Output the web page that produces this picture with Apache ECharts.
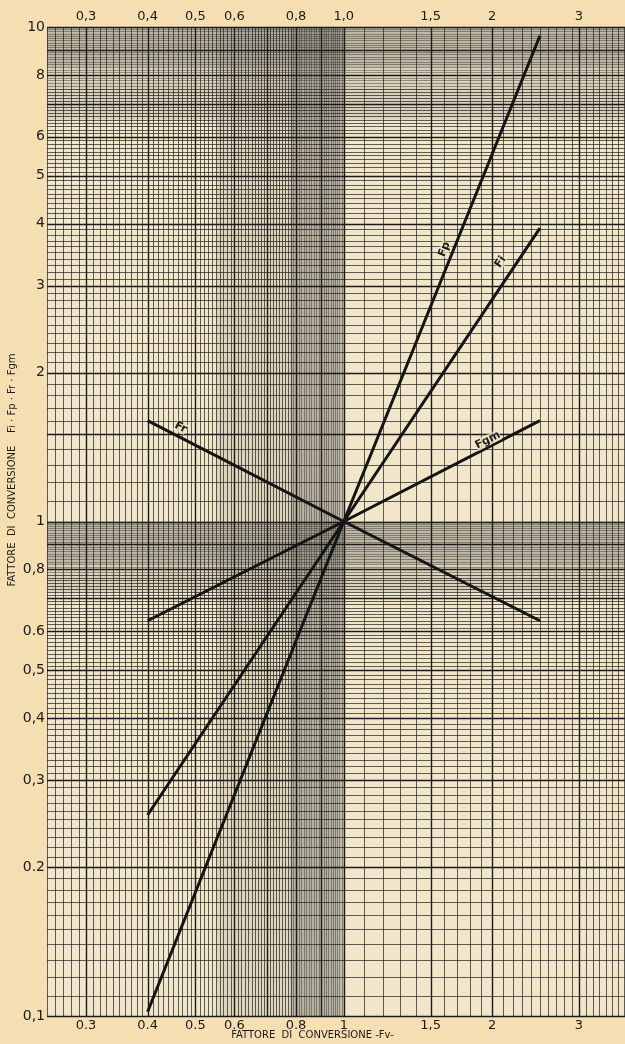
<!DOCTYPE html>
<html>
<head>
<meta charset="utf-8">
<script src="https://cdn.jsdelivr.net/npm/echarts@6/dist/echarts.min.js"></script>
<style>
html,body{margin:0;padding:0;background:#f5deb1;}
#chart{width:625px;height:1044px;}
</style>
</head>
<body>
<div id="chart"></div>
<script>
// ---- data ----
const xTickValues = [0.3, 0.4, 0.5, 0.6, 0.8, 1, 1.5, 2, 3];
const xTopLabels = ['0,3', '0,4', '0,5', '0,6', '0,8', '1,0', '1,5', '2', '3'];
const xBottomLabels = ['0.3', '0.4', '0.5', '0.6', '0.8', '1', '1,5', '2', '3'];
const yTickValues = [10, 8, 6, 5, 4, 3, 2, 1, 0.8, 0.6, 0.5, 0.4, 0.3, 0.2, 0.1];
const yTickLabels = ['10', '8', '6', '5', '4', '3', '2', '1', '0,8', '0.6', '0,5', '0,4', '0,3', '0.2', '0,1'];

const fvValues = [0.4, 1, 2.5];
const fpValues = [0.102, 1, 9.6];
const fiValues = [0.255, 1, 3.92];
const fgmValues = [0.63, 1, 1.6];
const frValues = [1.6, 1, 0.63];

const curveNames = ['Fp', 'Fi', 'Fgm', 'Fr'];
const curveLabelX = [1.6, 2.08, 1.96, 0.467];
const curveLabelY = [3.55, 3.35, 1.46, 1.55];
const curveLabelAngle = [68, 56, 27, -27];

const X_MIN = 0.25, X_MAX = 3.72, Y_MIN = 0.1, Y_MAX = 10;

// ---- graph-paper rulings (styling) ----
function range(a, b, step) {
  const out = []; const n = Math.round((b - a) / step);
  for (let i = 0; i <= n; i++) out.push(+(a + i * step).toFixed(4));
  return out;
}
const gridX = range(0.25, 1, 0.01).concat(range(1.1, 3.7, 0.1));
const gridY = range(0.1, 1, 0.01).concat(range(1.1, 2, 0.1)).concat(range(2.1, 10, 0.1));
function isMajor(v) {
  if (v < 1) return Math.abs(v * 10 - Math.round(v * 10)) < 1e-6;
  if (v < 2) return Math.abs(v * 2 - Math.round(v * 2)) < 1e-6;
  return Math.abs(v - Math.round(v)) < 1e-6;
}
function isDense(v) { return (v > 0.78 && v < 1) || (v > 7.5 && v < 10); }
function rulingStyle(v) {
  if (isMajor(v)) return {stroke: '#1a1a1a', lineWidth: 1.4};
  return {stroke: isDense(v) ? 'rgba(40,40,38,0.42)' : 'rgba(30,30,28,0.7)', lineWidth: 1};
}

const chart = echarts.init(document.getElementById('chart'), null, {renderer: 'canvas'});
const FONT = '"DejaVu Sans", "Liberation Sans", sans-serif';

function pairs(xs, ys) { return xs.map((x, i) => [x, ys[i]]); }

const option = {
  backgroundColor: '#f5deb1',
  animation: false,
  grid: {left: 47, right: 0, top: 27, bottom: 28, containLabel: false},
  xAxis: {type: 'log', logBase: 10, min: X_MIN, max: X_MAX,
    axisLine: {show: false}, axisTick: {show: false}, axisLabel: {show: false}, splitLine: {show: false}},
  yAxis: {type: 'log', logBase: 10, min: Y_MIN, max: Y_MAX,
    axisLine: {show: false}, axisTick: {show: false}, axisLabel: {show: false}, splitLine: {show: false}},
  series: [
    { // paper background + shaded bands
      type: 'custom', z: 1, silent: true,
      data: [[1, 1]],
      renderItem: function (params, api) {
        const tl = api.coord([X_MIN, Y_MAX]), br = api.coord([X_MAX, Y_MIN]);
        const rect = (x0, y0, x1, y1, fill) => {
          const a = api.coord([x0, y1]), b = api.coord([x1, y0]);
          return {type: 'rect', shape: {x: a[0], y: a[1], width: b[0] - a[0], height: b[1] - a[1]}, style: {fill: fill}};
        };
        return {type: 'group', children: [
          {type: 'rect', shape: {x: tl[0], y: tl[1], width: br[0] - tl[0], height: br[1] - tl[1]}, style: {fill: '#f1e6c9'}},
          rect(0.55, 1.0, 0.97, Y_MAX, 'rgba(150,145,135,0.22)'),
          rect(0.55, Y_MIN, 0.97, 0.9, 'rgba(150,145,135,0.2)'),
          rect(0.78, Y_MIN, 1.0, Y_MAX, 'rgba(120,118,112,0.38)'),
          rect(X_MIN, 0.72, X_MAX, 1.0, 'rgba(140,138,130,0.22)'),
          rect(X_MIN, 0.82, X_MAX, 1.0, 'rgba(120,118,112,0.28)'),
          rect(X_MIN, 6.5, X_MAX, Y_MAX, 'rgba(140,138,130,0.22)'),
          rect(X_MIN, 8.3, X_MAX, Y_MAX, 'rgba(120,118,112,0.28)')
        ]};
      }
    },
    { // vertical rulings
      type: 'custom', z: 2, silent: true,
      data: gridX.map(v => [v, 1]),
      renderItem: function (params, api) {
        const v = api.value(0);
        const p1 = api.coord([v, Y_MIN]), p2 = api.coord([v, Y_MAX]);
        const x = Math.round(p1[0]) + 0.5;
        return {type: 'line', shape: {x1: x, y1: p1[1], x2: x, y2: p2[1]}, style: rulingStyle(v)};
      }
    },
    { // horizontal rulings
      type: 'custom', z: 2, silent: true,
      data: gridY.map(v => [1, v]),
      renderItem: function (params, api) {
        const v = api.value(1);
        const p1 = api.coord([X_MIN, v]), p2 = api.coord([X_MAX, v]);
        const y = Math.round(p1[1]) + 0.5;
        return {type: 'line', shape: {x1: p1[0], y1: y, x2: p2[0], y2: y}, style: rulingStyle(v)};
      }
    },
    { // bottom tick labels
      type: 'custom', z: 5, silent: true,
      data: xTickValues.map(v => [v, Y_MIN]),
      renderItem: function (params, api) {
        const p = api.coord([api.value(0), Y_MIN]);
        return {type: 'text', x: p[0], y: p[1] + 3,
          style: {text: xBottomLabels[params.dataIndex], fill: '#1a1a1a', font: '13px ' + FONT, align: 'center', verticalAlign: 'top'}};
      }
    },
    { // top tick labels
      type: 'custom', z: 5, silent: true,
      data: xTickValues.map(v => [v, Y_MAX]),
      renderItem: function (params, api) {
        const p = api.coord([api.value(0), Y_MAX]);
        return {type: 'text', x: p[0], y: p[1] - 4,
          style: {text: xTopLabels[params.dataIndex], fill: '#1a1a1a', font: '13px ' + FONT, align: 'center', verticalAlign: 'bottom'}};
      }
    },
    { // left tick labels
      type: 'custom', z: 5, silent: true,
      data: yTickValues.map(v => [X_MIN, v]),
      renderItem: function (params, api) {
        const p = api.coord([X_MIN, api.value(1)]);
        return {type: 'text', x: p[0] - 2, y: p[1],
          style: {text: yTickLabels[params.dataIndex], fill: '#1a1a1a', font: '14px ' + FONT, align: 'right', verticalAlign: 'middle'}};
      }
    },
    {name: 'Fp', type: 'line', z: 6, data: pairs(fvValues, fpValues), symbol: 'none', lineStyle: {color: '#141414', width: 3}},
    {name: 'Fi', type: 'line', z: 6, data: pairs(fvValues, fiValues), symbol: 'none', lineStyle: {color: '#141414', width: 3}},
    {name: 'Fgm', type: 'line', z: 6, data: pairs(fvValues, fgmValues), symbol: 'none', lineStyle: {color: '#141414', width: 3}},
    {name: 'Fr', type: 'line', z: 6, data: pairs(fvValues, frValues), symbol: 'none', lineStyle: {color: '#141414', width: 3}},
    { // curve labels
      type: 'custom', z: 7, silent: true,
      data: pairs(curveLabelX, curveLabelY),
      renderItem: function (params, api) {
        const i = params.dataIndex;
        const p = api.coord([api.value(0), api.value(1)]);
        return {type: 'text', x: p[0], y: p[1], rotation: curveLabelAngle[i] * Math.PI / 180,
          style: {text: curveNames[i], fill: '#1a1a1a', font: 'bold 11px ' + FONT, align: 'center', verticalAlign: 'middle',
            backgroundColor: 'rgba(241,230,201,0.7)'}};
      }
    }
  ],
  graphic: [
    {type: 'text', left: 'center', x: 0, top: 1030,
      style: {text: 'FATTORE  DI  CONVERSIONE -Fv-', fill: '#1a1a1a', font: '10px ' + FONT}},
    {type: 'text', x: 12, y: 470, rotation: Math.PI / 2,
      style: {text: 'FATTORE  DI  CONVERSIONE    Fi · Fp · Fr · Fgm', fill: '#1a1a1a', font: '10px ' + FONT, align: 'center', verticalAlign: 'middle'}}
  ]
};
chart.setOption(option);
</script>
</body>
</html>
